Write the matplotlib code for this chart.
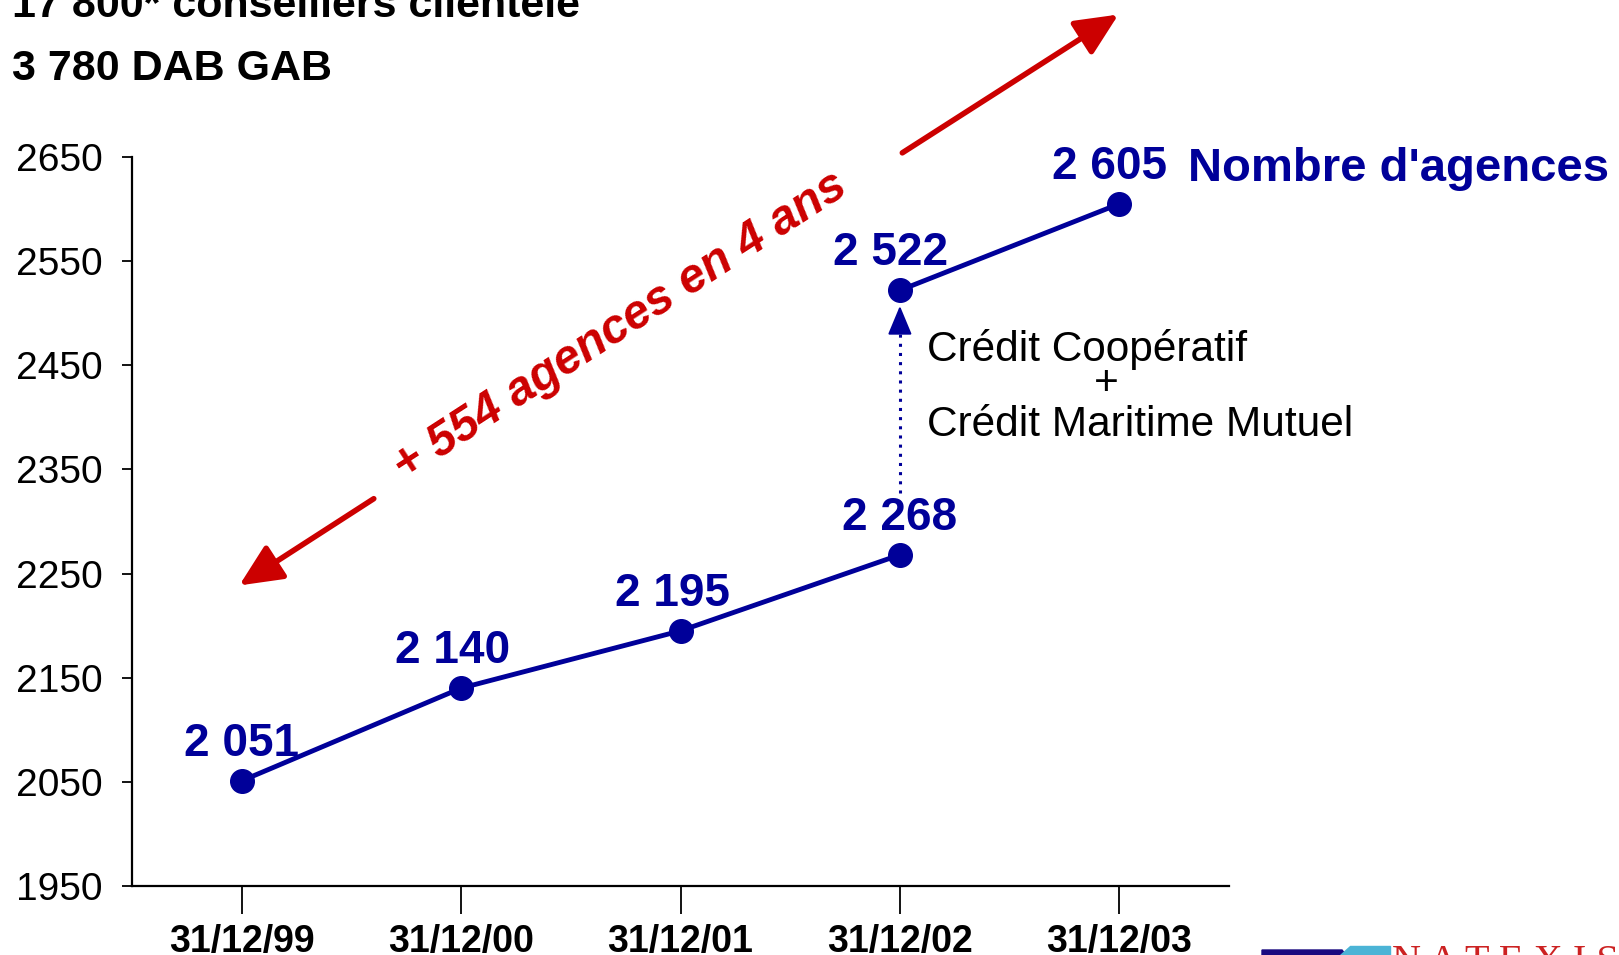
import numpy as np
import matplotlib
matplotlib.use('Agg')
import matplotlib.pyplot as plt
from matplotlib.patches import Polygon

plt.rcParams.update({
    'font.family': ['Liberation Sans', 'DejaVu Sans'],
    'axes.linewidth': 1.6,
})

BLUE = '#000099'
RED = '#cc0000'

# data
dates = ['31/12/99', '31/12/00', '31/12/01', '31/12/02', '31/12/03']
agences_avant = [2051, 2140, 2195, 2268]       # 31/12/99 .. 31/12/02
agences_apres = [2522, 2605]                   # 31/12/02 (après intégration) .. 31/12/03
yticks = [1950, 2050, 2150, 2250, 2350, 2450, 2550, 2650]

# small horizontal nudges of the value labels (points)
dx_avant = [0, -6, -6, 0]
dx_apres = [-7, -7]

W, H = 1619, 955
fig = plt.figure(figsize=(W / 100, H / 100), dpi=100)
ax = fig.add_axes([132 / W, 1 - 886 / H, (1229 - 132) / W, (886 - 157) / H])

x = np.arange(len(dates))
x1 = x[:len(agences_avant)]
x2 = x[len(agences_avant) - 1:]

for xs, ys, dxs in ((x1, agences_avant, dx_avant), (x2, agences_apres, dx_apres)):
    ax.plot(xs, ys, '-o', color=BLUE, lw=3.5, ms=17, zorder=3)
    for xi, yi, dx in zip(xs, ys, dxs):
        ax.annotate(f"{yi:,}".replace(',', ' '), (xi, yi), xytext=(dx, 18),
                    textcoords='offset points', ha='center', va='baseline',
                    fontsize=33, fontweight='bold', color=BLUE)

ax.set_xlim(-0.5, len(dates) - 0.5)
ax.set_ylim(1950, 2650)
ax.set_xticks(x)
ax.set_xticklabels(dates, fontsize=27, fontweight='bold')
ax.set_yticks(yticks)
ax.set_yticklabels([str(v) for v in yticks], fontsize=28)
ax.tick_params(axis='x', direction='out', length=20, width=1.3, pad=7)
ax.tick_params(axis='y', direction='out', length=7, width=1.3, pad=14)
for s in ('top', 'right'):
    ax.spines[s].set_visible(False)

# series label
ax.text(4.315, 2627, "Nombre d'agences", fontsize=34, fontweight='bold',
        color=BLUE, ha='left', va='baseline', clip_on=False)

# dotted arrow: intégration
ax.plot([3, 3], [2327, 2497], ls=(0, (1, 2)), color=BLUE, lw=2.2, zorder=2)
ax.annotate('', xy=(3, 2507), xytext=(3, 2490),
            arrowprops=dict(arrowstyle='-|>,head_length=0.6,head_width=0.25',
                            mutation_scale=30, color=BLUE, lw=1.5,
                            shrinkA=0, shrinkB=0))
ax.text(3.123, 2454, 'Crédit Coopératif', fontsize=30.5, ha='left', va='baseline')
ax.text(3.941, 2432, '+', fontsize=30.5, ha='center', va='center')
ax.text(3.123, 2382, 'Crédit Maritime Mutuel', fontsize=30.5, ha='left', va='baseline')

# red growth arrows and text
arrow_kw = dict(arrowstyle='-|>,head_length=0.65,head_width=0.3',
                mutation_scale=40, color=RED, lw=4, shrinkA=0, shrinkB=0)
ax.annotate('', xy=(-0.011, 2238.6), xytext=(0.602, 2321.9),
            arrowprops=arrow_kw, annotation_clip=False)
ax.annotate('', xy=(3.996, 2786.8), xytext=(3.011, 2654),
            arrowprops=arrow_kw, annotation_clip=False)
ax.text(1.727, 2487, '+ 554 agences en 4 ans', fontsize=34.5, fontweight='bold',
        fontstyle='italic', color=RED, rotation=33, rotation_mode='anchor',
        ha='center', va='center')

# header text (cropped at top)
fig.text(12.4 / W, 1 - 17 / H, '17 800* conseillers clientèle', fontsize=31,
         fontweight='bold', ha='left', va='baseline')
fig.text(12.4 / W, 1 - 80 / H, '3 780 DAB GAB', fontsize=31,
         fontweight='bold', ha='left', va='baseline')

# logo (cropped at bottom right)
fig.patches.append(Polygon([(1262 / W, 0), (1346 / W, 0), (1342 / W, 1 - 950 / H),
                            (1262 / W, 1 - 950 / H)], closed=True,
                           transform=fig.transFigure, color='#1a0a80'))
fig.patches.append(Polygon([(1340 / W, 0), (1390 / W, 0), (1390 / W, 1 - 946 / H),
                            (1350 / W, 1 - 946 / H)], closed=True,
                           transform=fig.transFigure, color='#4bb4d6'))
fig.text(1392 / W, 1 - 944 / H, 'N A T E X I S', fontsize=29, color='#cc2222',
         family=['Liberation Serif', 'DejaVu Serif'], ha='left', va='top')

fig.savefig('out.png', dpi=100)
